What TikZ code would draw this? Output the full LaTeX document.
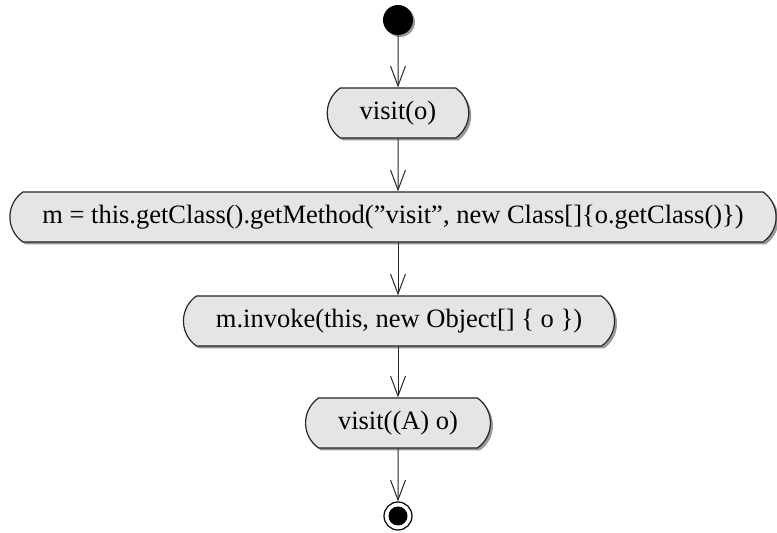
\documentclass[tikz,border=0pt]{standalone}
\usepackage{fontspec}
\setmainfont{Liberation Serif}
\usetikzlibrary{shapes.misc,arrows.meta,shadows}

\tikzset{
  action/.style = {rounded rectangle, rounded rectangle arc length=110,
    draw=black!85, line width=1.2pt, fill=black!10, minimum height=50pt,
    inner xsep=30pt, font=\fontsize{26.5}{30}\selectfont,
    drop shadow={shadow xshift=2.5pt, shadow yshift=-2.5pt, fill=black!40, opacity=1}},
  initial/.style = {circle, fill=black, minimum size=30pt, inner sep=0pt,
    drop shadow={shadow xshift=2pt, shadow yshift=-2pt, fill=black!40, opacity=1}},
  final/.style = {circle, draw=black, line width=1.2pt, fill=white, minimum size=28pt, inner sep=0pt,
    path picture={\fill[black] (path picture bounding box.center) circle (9.5pt);}},
  flow/.style = {line width=1pt, black!85, -{Straight Barb[length=20pt,width=15pt,line width=1pt]}}
}

\begin{document}
\begin{tikzpicture}[x=1pt, y=1pt]
\useasboundingbox (0,0) rectangle (777,533);
\node[initial] (start) at (398, 513) {};
\node[action] (visit) at (398, 420) {visit(o)};
\node[action] (getm) at (393, 316) {m = this.getClass().getMethod(”visit”, new Class[]\{o.getClass()\})};
\node[action] (invoke) at (399, 212) {m.invoke(this, new Object[] \{ o \})};
\node[action] (visita) at (398, 110) {visit((A) o)};
\node[final] (stop) at (398, 17) {};
\draw[flow] (start) -- (visit);
\draw[flow] (visit) -- (visit |- getm.north);
\draw[flow] (visit |- getm.south) -- (visit |- invoke.north);
\draw[flow] (visit |- invoke.south) -- (visit |- visita.north);
\draw[flow] (visita) -- (stop);
\end{tikzpicture}
\end{document}
